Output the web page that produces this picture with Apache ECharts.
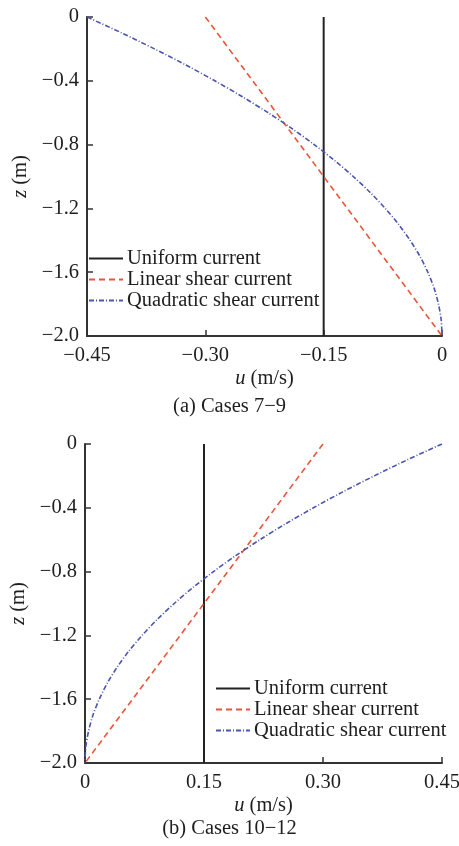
<!DOCTYPE html>
<html><head><meta charset="utf-8">
<script src="https://cdn.jsdelivr.net/npm/echarts@6/dist/echarts.min.js"></script>
<style>html,body{margin:0;padding:0;background:#fff}#c{width:459px;height:846px}</style>
</head><body><div id="c"></div>
<script>
const seriesNames = ['Uniform current', 'Linear shear current', 'Quadratic shear current'];
const zDepth = [0, -0.1, -0.2, -0.3, -0.4, -0.5, -0.6, -0.7, -0.8, -0.9, -1.0, -1.1, -1.2, -1.3, -1.4, -1.5, -1.6, -1.7, -1.8, -1.9, -2.0];
const quadA = [-0.45, -0.406, -0.3645, -0.325, -0.288, -0.253, -0.2205, -0.190, -0.162, -0.136, -0.1125, -0.091, -0.072, -0.055, -0.0405, -0.028, -0.018, -0.010, -0.0045, -0.001, 0];
const quadB = [0.45, 0.406, 0.3645, 0.325, 0.288, 0.253, 0.2205, 0.190, 0.162, 0.136, 0.1125, 0.091, 0.072, 0.055, 0.0405, 0.028, 0.018, 0.010, 0.0045, 0.001, 0];
const endZ = [0, -2.0];
const uniformA = [-0.15, -0.15];
const uniformB = [0.15, 0.15];
const linearA = [-0.30, 0];
const linearB = [0.30, 0];
const xRangeA = [-0.45, 0];
const xRangeB = [0, 0.45];
const zRange = [-2.0, 0];
const captions = ['(a) Cases 7\u22129', '(b) Cases 10\u221212'];

const FONT = 'Liberation Serif';
const TXT = '#1e1e1e';
const AX = '#333';
const FS = 20.5;
const colors = ['#222222', '#e8553a', '#4a55b0'];
const lineTypes = ['solid', [6, 4], [5, 2, 1, 2]];

function pairs(us, zs) { return us.map((u, i) => [u, zs[i]]); }
function fmtZ(v) { return Math.abs(v) < 1e-9 ? '0' : '\u2212' + Math.abs(v).toFixed(1); }
function fmtX(v) { if (Math.abs(v) < 1e-9) return '0'; return (v < 0 ? '\u2212' : '') + Math.abs(v).toFixed(2); }

const grids = [
  { left: 87, right: 17, top: 17, height: 319, outerBoundsMode: 'none' },
  { left: 85, right: 17, top: 444, height: 319, outerBoundsMode: 'none' }
];

function xAxisFor(i, range) {
  return {
    type: 'value', gridIndex: i, min: range[0], max: range[1], interval: 0.15,
    name: '{i|u} (m/s)', nameLocation: 'middle', nameGap: 32,
    nameTextStyle: { fontFamily: FONT, fontSize: FS, color: TXT, rich: { i: { fontFamily: FONT, fontSize: FS, fontStyle: 'italic', color: TXT } } },
    axisLine: { show: true, onZero: false, lineStyle: { color: AX, width: 2 } },
    axisTick: { show: true, inside: true, length: 6, lineStyle: { color: AX, width: 1.5 } },
    axisLabel: { fontFamily: FONT, fontSize: FS, color: TXT, margin: 9, formatter: fmtX, showMinLabel: true, showMaxLabel: true },
    splitLine: { show: false }
  };
}
function yAxisFor(i) {
  return {
    type: 'value', gridIndex: i, min: zRange[0], max: zRange[1], interval: 0.4,
    name: '{i|z} (m)', nameLocation: 'middle', nameGap: 54, nameRotate: 90,
    nameTextStyle: { fontFamily: FONT, fontSize: FS, color: TXT, rich: { i: { fontFamily: FONT, fontSize: FS, fontStyle: 'italic', color: TXT } } },
    axisLine: { show: true, onZero: false, lineStyle: { color: AX, width: 2 } },
    axisTick: { show: true, inside: true, length: 6, lineStyle: { color: AX, width: 1.5 } },
    axisLabel: { fontFamily: FONT, fontSize: FS, color: TXT, margin: 8, formatter: fmtZ, showMinLabel: true, showMaxLabel: true },
    splitLine: { show: false }
  };
}

function seriesFor(i, uni, lin, quad) {
  const datas = [pairs(uni, endZ), pairs(lin, endZ), pairs(quad, zDepth)];
  return datas.map((d, k) => ({
    name: seriesNames[k], type: 'line', xAxisIndex: i, yAxisIndex: i,
    data: d, symbol: 'none', showSymbol: false, smooth: k === 2 ? 0.3 : false, animation: false,
    lineStyle: { color: colors[k], width: k === 0 ? 2 : 1.6, type: lineTypes[k] },
    itemStyle: { color: colors[k] }
  }));
}

function legendFor(left, top) {
  return {
    orient: 'vertical', left: left, top: top, itemWidth: 34, itemHeight: 12, itemGap: 0, padding: 0,
    selectedMode: false, data: seriesNames,
    itemStyle: { opacity: 0 },
    textStyle: { fontFamily: FONT, fontSize: FS, color: TXT, lineHeight: 20, padding: [0, 0, 0, -1] }
  };
}

const chart = echarts.init(document.getElementById('c'), null, { renderer: 'canvas' });
chart.setOption({
  backgroundColor: '#fff',
  animation: false,
  grid: grids,
  xAxis: [xAxisFor(0, xRangeA), xAxisFor(1, xRangeB)],
  yAxis: [yAxisFor(0), yAxisFor(1)],
  legend: [legendFor(88, 248), legendFor(215, 678)],
  series: [].concat(seriesFor(0, uniformA, linearA, quadA), seriesFor(1, uniformB, linearB, quadB)),
  graphic: [
    { type: 'text', left: 'center', top: 396, style: { text: captions[0], fontFamily: FONT, fontSize: FS, fill: TXT } },
    { type: 'text', left: 'center', top: 818, style: { text: captions[1], fontFamily: FONT, fontSize: FS, fill: TXT } }
  ]
});
</script></body></html>
